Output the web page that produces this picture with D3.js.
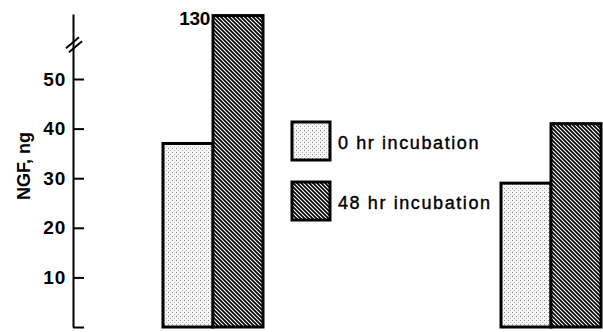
<!DOCTYPE html>
<html>
<head>
<meta charset="utf-8">
<script src="https://cdn.jsdelivr.net/npm/d3@7"></script>
<style>
  html, body { margin: 0; padding: 0; background: #fff; }
  svg { display: block; }
  text { font-family: "Liberation Sans", Arial, sans-serif; fill: #000; }
</style>
</head>
<body>
<svg id="chart" width="603" height="332"></svg>
<script>
// ---- data ----
const groups = ["Sample A", "Sample B"];
const seriesNames = ["0 hr incubation", "48 hr incubation"];
const values0hr = [37, 29];
const values48hr = [130, 41];
const yTickValues = [0, 10, 20, 30, 40, 50];
const yLabel = "NGF, ng";
const breakValue = 95;

// ---- layout ----
const svg = d3.select("#chart");
const axisX = 73;

// broken y scale: 0-50 linear, compressed above the break
const y = d3.scaleLinear().domain([0, 50, 132]).range([327, 79, 14]);

const xGroup = d3.scalePoint().domain(groups).range([213, 551]);
const xSeries = d3.scaleBand().domain(seriesNames).range([-50, 50]).padding(0);

// ---- patterns ----
const defs = svg.append("defs");
const dots = defs.append("pattern").attr("id", "dots")
  .attr("patternUnits", "userSpaceOnUse").attr("width", 4).attr("height", 4);
dots.append("rect").attr("width", 4).attr("height", 4).attr("fill", "#f6f6f6");
dots.append("rect").attr("x", 0).attr("y", 0).attr("width", 1).attr("height", 1).attr("fill", "#8a8a8a");
dots.append("rect").attr("x", 2).attr("y", 2).attr("width", 1).attr("height", 1).attr("fill", "#b4b4b4");

const hatch = defs.append("pattern").attr("id", "hatch")
  .attr("patternUnits", "userSpaceOnUse").attr("width", 4).attr("height", 4);
hatch.append("rect").attr("width", 4).attr("height", 4).attr("fill", "#fff");
hatch.append("path").attr("d", "M-1,-1L5,5M-1,3L1,5M3,-1L5,1")
  .attr("stroke", "#000").attr("stroke-width", 1.7);

const fills = { "0 hr incubation": "url(#dots)", "48 hr incubation": "url(#hatch)" };

// ---- bars ----
const barData = [];
groups.forEach((g, i) => {
  barData.push({ g, s: seriesNames[0], v: values0hr[i] });
  barData.push({ g, s: seriesNames[1], v: values48hr[i] });
});

svg.append("g").selectAll("rect").data(barData).join("rect")
  .attr("x", d => xGroup(d.g) + xSeries(d.s))
  .attr("y", d => y(d.v))
  .attr("width", xSeries.bandwidth())
  .attr("height", d => y(0) - y(d.v))
  .attr("fill", d => fills[d.s])
  .attr("stroke", "#000")
  .attr("stroke-width", 3);

// value label on broken bar
const tall = barData.find(d => d.v > 50);
svg.append("text")
  .attr("x", xGroup(tall.g) + xSeries(tall.s) - 3)
  .attr("y", y(tall.v) + 9)
  .attr("text-anchor", "end")
  .attr("font-size", 19)
  .attr("font-weight", "bold")
  .attr("letter-spacing", -0.3)
  .text(String(tall.v));

// ---- axis ----
const axis = d3.axisLeft(y)
  .tickValues(yTickValues)
  .tickSizeInner(-11)
  .tickSizeOuter(0)
  .tickPadding(7)
  .tickFormat(d => d === 0 ? "" : d);

const gAxis = svg.append("g").attr("transform", `translate(${axisX},0)`).call(axis);
gAxis.select(".domain").attr("stroke", "#000").attr("stroke-width", 2);
gAxis.selectAll(".tick line").attr("stroke", "#000").attr("stroke-width", 2);
gAxis.selectAll(".tick text")
  .attr("font-size", 19).attr("font-weight", "bold")
  .attr("font-family", "'Liberation Sans', Arial, sans-serif")
  .attr("fill", "#000").attr("letter-spacing", 0.8);

// break marks
const yb = y(breakValue);
[[-1, 0], [2, 4]].forEach(([dx, dy]) => {
  svg.append("line")
    .attr("x1", axisX + dx - 6).attr("y1", yb + dy + 5)
    .attr("x2", axisX + dx + 7).attr("y2", yb + dy - 6)
    .attr("stroke", "#000").attr("stroke-width", 2);
});

// y label
svg.append("text")
  .attr("transform", `translate(30,166) rotate(-90)`)
  .attr("text-anchor", "middle")
  .attr("font-size", 18)
  .attr("font-weight", "bold")
  .text(yLabel);

// ---- legend ----
const legendY = d3.scalePoint().domain(seriesNames).range([122, 182]);
const lg = svg.append("g").selectAll("g").data(seriesNames).join("g")
  .attr("transform", d => `translate(292,${legendY(d)})`);
lg.append("rect")
  .attr("width", 38).attr("height", 38)
  .attr("fill", d => fills[d])
  .attr("stroke", "#000").attr("stroke-width", 3);
lg.append("text")
  .attr("x", 46).attr("y", 27)
  .attr("font-size", 18)
  .attr("letter-spacing", 1.6)
  .attr("stroke", "#000").attr("stroke-width", 0.4)
  .text(d => d);
</script>
</body>
</html>
